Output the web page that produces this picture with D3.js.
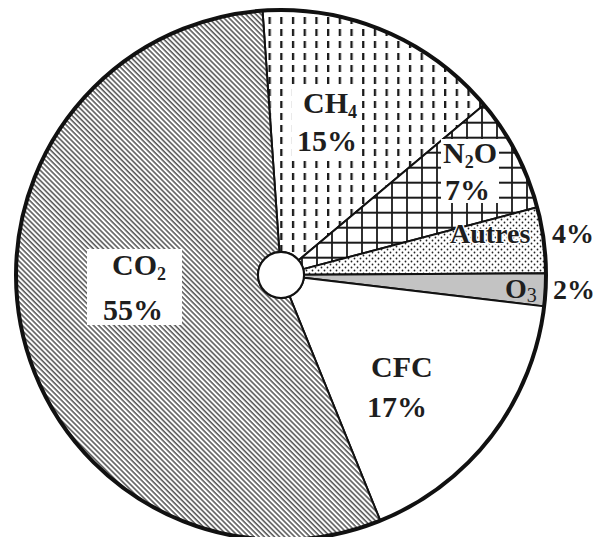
<!DOCTYPE html>
<html>
<head>
<meta charset="utf-8">
<script src="https://cdn.jsdelivr.net/npm/d3@7"></script>
<style>
  body { margin: 0; background: #fff; }
  svg { display: block; }
</style>
</head>
<body>
<svg id="chart" width="608" height="537"></svg>
<script>
// data, clockwise from the top
var gases = ["CH4", "N2O", "Autres", "O3", "CFC", "CO2"];
var shares = [15, 7, 4, 2, 17, 55];
// label pieces: [text, isSubscript]
var labelParts = [
  [["CH"], ["4", 1]],
  [["N"], ["2", 1], ["O"]],
  [["Autres"]],
  [["O"], ["3", 1]],
  [["CFC"]],
  [["CO"], ["2", 1]]
];

// styles
var fills = ["url(#dash)", "url(#grid)", "url(#dots)", "#c3c3c3", "#ffffff", "url(#hatch)"];

// layout
var cx = 281, cy = 275, R = 265, hole = 23;
var start = -4 * Math.PI / 180;
// label anchors (left edge, baseline) and white box padding
var labelLayout = {
  "CH4":    { name: [303, 113], pct: [297, 151], box: [5, 0] },
  "N2O":    { name: [443, 163], pct: [445, 200], box: [2, -3] },
  "Autres": { name: [450, 243], pct: [552, 243], box: null },
  "O3":     { name: [505, 298], pct: [553, 299], box: null },
  "CFC":    { name: [371, 377], pct: [367, 417], box: null },
  "CO2":    { name: [112, 275], pct: [103, 320], box: [16, -1] }
};

var svg = d3.select("#chart");
var defs = svg.append("defs");

// diagonal hatch (CO2)
var hatch = defs.append("pattern").attr("id", "hatch")
  .attr("patternUnits", "userSpaceOnUse")
  .attr("width", 3.6).attr("height", 10)
  .attr("patternTransform", "rotate(-45)");
hatch.append("rect").attr("width", 3.6).attr("height", 10).attr("fill", "#fff");
hatch.append("line").attr("x1", 1).attr("x2", 1).attr("y1", 0).attr("y2", 10)
  .attr("stroke", "#505050").attr("stroke-width", 1.5);

// vertical dashes (CH4)
var dash = defs.append("pattern").attr("id", "dash")
  .attr("patternUnits", "userSpaceOnUse")
  .attr("x", 281 - 1).attr("y", 4)
  .attr("width", 11.7).attr("height", 12);
dash.append("rect").attr("width", 11.7).attr("height", 12).attr("fill", "#fff");
dash.append("rect").attr("x", 0).attr("y", 2).attr("width", 2.3).attr("height", 7)
  .attr("fill", "#1a1a1a");

// square grid (N2O)
var grid = defs.append("pattern").attr("id", "grid")
  .attr("patternUnits", "userSpaceOnUse")
  .attr("x", 5).attr("y", 11.7)
  .attr("width", 15).attr("height", 15);
grid.append("rect").attr("width", 15).attr("height", 15).attr("fill", "#fff");
grid.append("path").attr("d", "M1,0V15M0,1H15")
  .attr("stroke", "#1a1a1a").attr("stroke-width", 1.8).attr("fill", "none");

// dots (Autres)
var dots = defs.append("pattern").attr("id", "dots")
  .attr("patternUnits", "userSpaceOnUse")
  .attr("width", 6).attr("height", 6);
dots.append("rect").attr("width", 6).attr("height", 6).attr("fill", "#fff");
dots.append("circle").attr("cx", 1.5).attr("cy", 1.5).attr("r", 0.9).attr("fill", "#222");
dots.append("circle").attr("cx", 4.5).attr("cy", 4.5).attr("r", 0.9).attr("fill", "#222");

var pie = d3.pie().sort(null).value(function(d) { return d; })
  .startAngle(start).endAngle(start + 2 * Math.PI);
var arc = d3.arc().innerRadius(hole).outerRadius(R);

var g = svg.append("g").attr("transform", "translate(" + cx + "," + cy + ")");

g.selectAll("path.slice")
  .data(pie(shares))
  .join("path")
  .attr("class", "slice")
  .attr("d", arc)
  .attr("fill", function(d, i) { return fills[i]; })
  .attr("stroke", "#111")
  .attr("stroke-width", 2)
  .attr("stroke-linejoin", "round");

// outer rim and centre hole
g.append("circle").attr("r", R)
  .attr("fill", "none").attr("stroke", "#111").attr("stroke-width", 4);
g.append("circle").attr("r", hole)
  .attr("fill", "#fff").attr("stroke", "#111").attr("stroke-width", 2);

// labels
var lg = svg.append("g")
  .style("font-family", "\"Liberation Serif\", \"Times New Roman\", Times, serif")
  .attr("font-weight", "bold")
  .attr("fill", "#1e1e1e");

gases.forEach(function(key, i) {
  var lay = labelLayout[key];
  var grp = lg.append("g");
  var t = grp.append("text")
    .attr("x", lay.name[0]).attr("y", lay.name[1])
    .attr("font-size", key == "Autres" || key == "O3" ? 28 : 30);
  var lowered = 0;
  labelParts[i].forEach(function(p) {
    var ts = t.append("tspan").text(p[0]);
    if (p[1]) {
      var isO3 = key == "O3";
      ts.attr("font-size", isO3 ? 20 : 18)
        .attr("font-weight", isO3 ? "normal" : "bold")
        .attr("dy", isO3 ? 4 : 5);
      lowered = isO3 ? 4 : 5;
    } else if (lowered) {
      ts.attr("dy", -lowered);
      lowered = 0;
    }
  });
  grp.append("text")
    .attr("x", lay.pct[0]).attr("y", lay.pct[1])
    .attr("font-size", key == "Autres" || key == "O3" ? 28 : 30)
    .text(shares[i] + "%");

  if (key == "Autres") {
    t.attr("stroke", "#fff").attr("stroke-width", 2.5)
      .attr("paint-order", "stroke").attr("stroke-linejoin", "round");
  }
  if (lay.box) {
    var b = grp.node().getBBox();
    grp.insert("rect", ":first-child")
      .attr("x", b.x - lay.box[0]).attr("y", b.y - lay.box[1])
      .attr("width", b.width + 2 * lay.box[0])
      .attr("height", b.height + 2 * lay.box[1])
      .attr("fill", "#fff");
  }
});
</script>
</body>
</html>
